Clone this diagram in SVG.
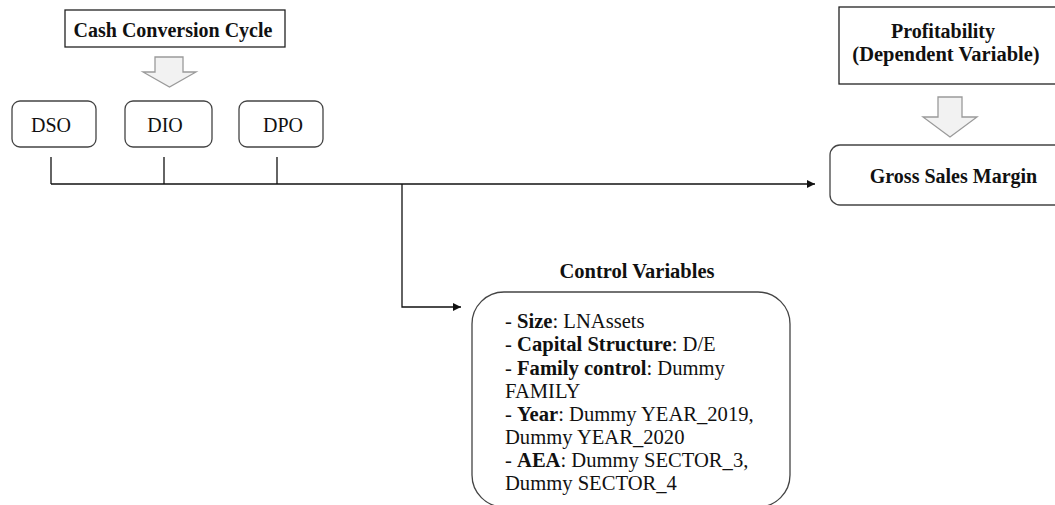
<svg xmlns="http://www.w3.org/2000/svg" width="1055" height="505" viewBox="0 0 1055 505">
<style>
text{font-family:"Liberation Serif","Times New Roman",serif;fill:#111}
.b{font-weight:bold}
.box{fill:#fff;stroke:#222;stroke-width:1.3}
.rbox{fill:#fff;stroke:#444;stroke-width:1.3}
.blk{fill:#f2f2f2;stroke:#9a9a9a;stroke-width:1.3}
.ln{fill:none;stroke:#111;stroke-width:1.3}
</style>
<defs>
<marker id="ah" viewBox="0 0 10 10" refX="10" refY="5" markerWidth="12" markerHeight="8" markerUnits="userSpaceOnUse" orient="auto">
<path d="M0,0 L10,5 L0,10 z" fill="#111"/>
</marker>
</defs>
<g id="ccc">
<rect class="box" x="65" y="10" width="220" height="37"/>
<text class="b" x="173" y="37" font-size="20" text-anchor="middle">Cash Conversion Cycle</text>
</g>
<g id="ccc-arrow">
<path class="blk" d="M155,57 H183 V72 H196 L169.5,87 L143,72 H155 Z"/>
</g>
<g id="dso">
<rect class="rbox" x="12" y="101" width="84" height="46" rx="8"/>
<text x="51" y="132" font-size="20" text-anchor="middle">DSO</text>
</g>
<g id="dio">
<rect class="rbox" x="125" y="101" width="87" height="46" rx="8"/>
<text x="165" y="132" font-size="20" text-anchor="middle">DIO</text>
</g>
<g id="dpo">
<rect class="rbox" x="239" y="101" width="84" height="46" rx="8"/>
<text x="283" y="132" font-size="20" text-anchor="middle">DPO</text>
</g>
<g id="profitability">
<rect class="box" x="839" y="7" width="226" height="77"/>
<text class="b" x="943" y="38" font-size="20" text-anchor="middle">Profitability</text>
<text class="b" x="946" y="61" font-size="20.5" text-anchor="middle">(Dependent Variable)</text>
</g>
<g id="prof-arrow">
<path class="blk" d="M938,97 H962 V117 H977 L950,137 L923,117 H938 Z"/>
</g>
<g id="gsm">
<rect class="rbox" x="830" y="145" width="240" height="60" rx="10"/>
<text class="b" x="953.5" y="183" font-size="20" text-anchor="middle">Gross Sales Margin</text>
</g>
<g id="control">
<text class="b" x="637" y="278" font-size="20.5" text-anchor="middle">Control Variables</text>
<rect class="rbox" x="472" y="292" width="318" height="215" rx="32"/>
<g font-size="20.6">
<text x="505" y="328">- <tspan class="b">Size</tspan>: LNAssets</text>
<text x="505" y="351">- <tspan class="b">Capital Structure</tspan>: D/E</text>
<text x="505" y="375">- <tspan class="b">Family control</tspan>: Dummy</text>
<text x="505" y="398">FAMILY</text>
<text x="505" y="421">- <tspan class="b">Year</tspan>: Dummy YEAR_2019,</text>
<text x="505" y="444">Dummy YEAR_2020</text>
<text x="505" y="467">- <tspan class="b">AEA</tspan>: Dummy SECTOR_3,</text>
<text x="505" y="490">Dummy SECTOR_4</text>
</g>
</g>
<g id="connectors">
<path class="ln" d="M51,157 V184"/>
<path class="ln" d="M164,157 V184"/>
<path class="ln" d="M277,157 V184"/>
<path class="ln" d="M51,184 H815" marker-end="url(#ah)"/>
<path class="ln" d="M402,184 V307 H461" marker-end="url(#ah)"/>
</g>
</svg>
